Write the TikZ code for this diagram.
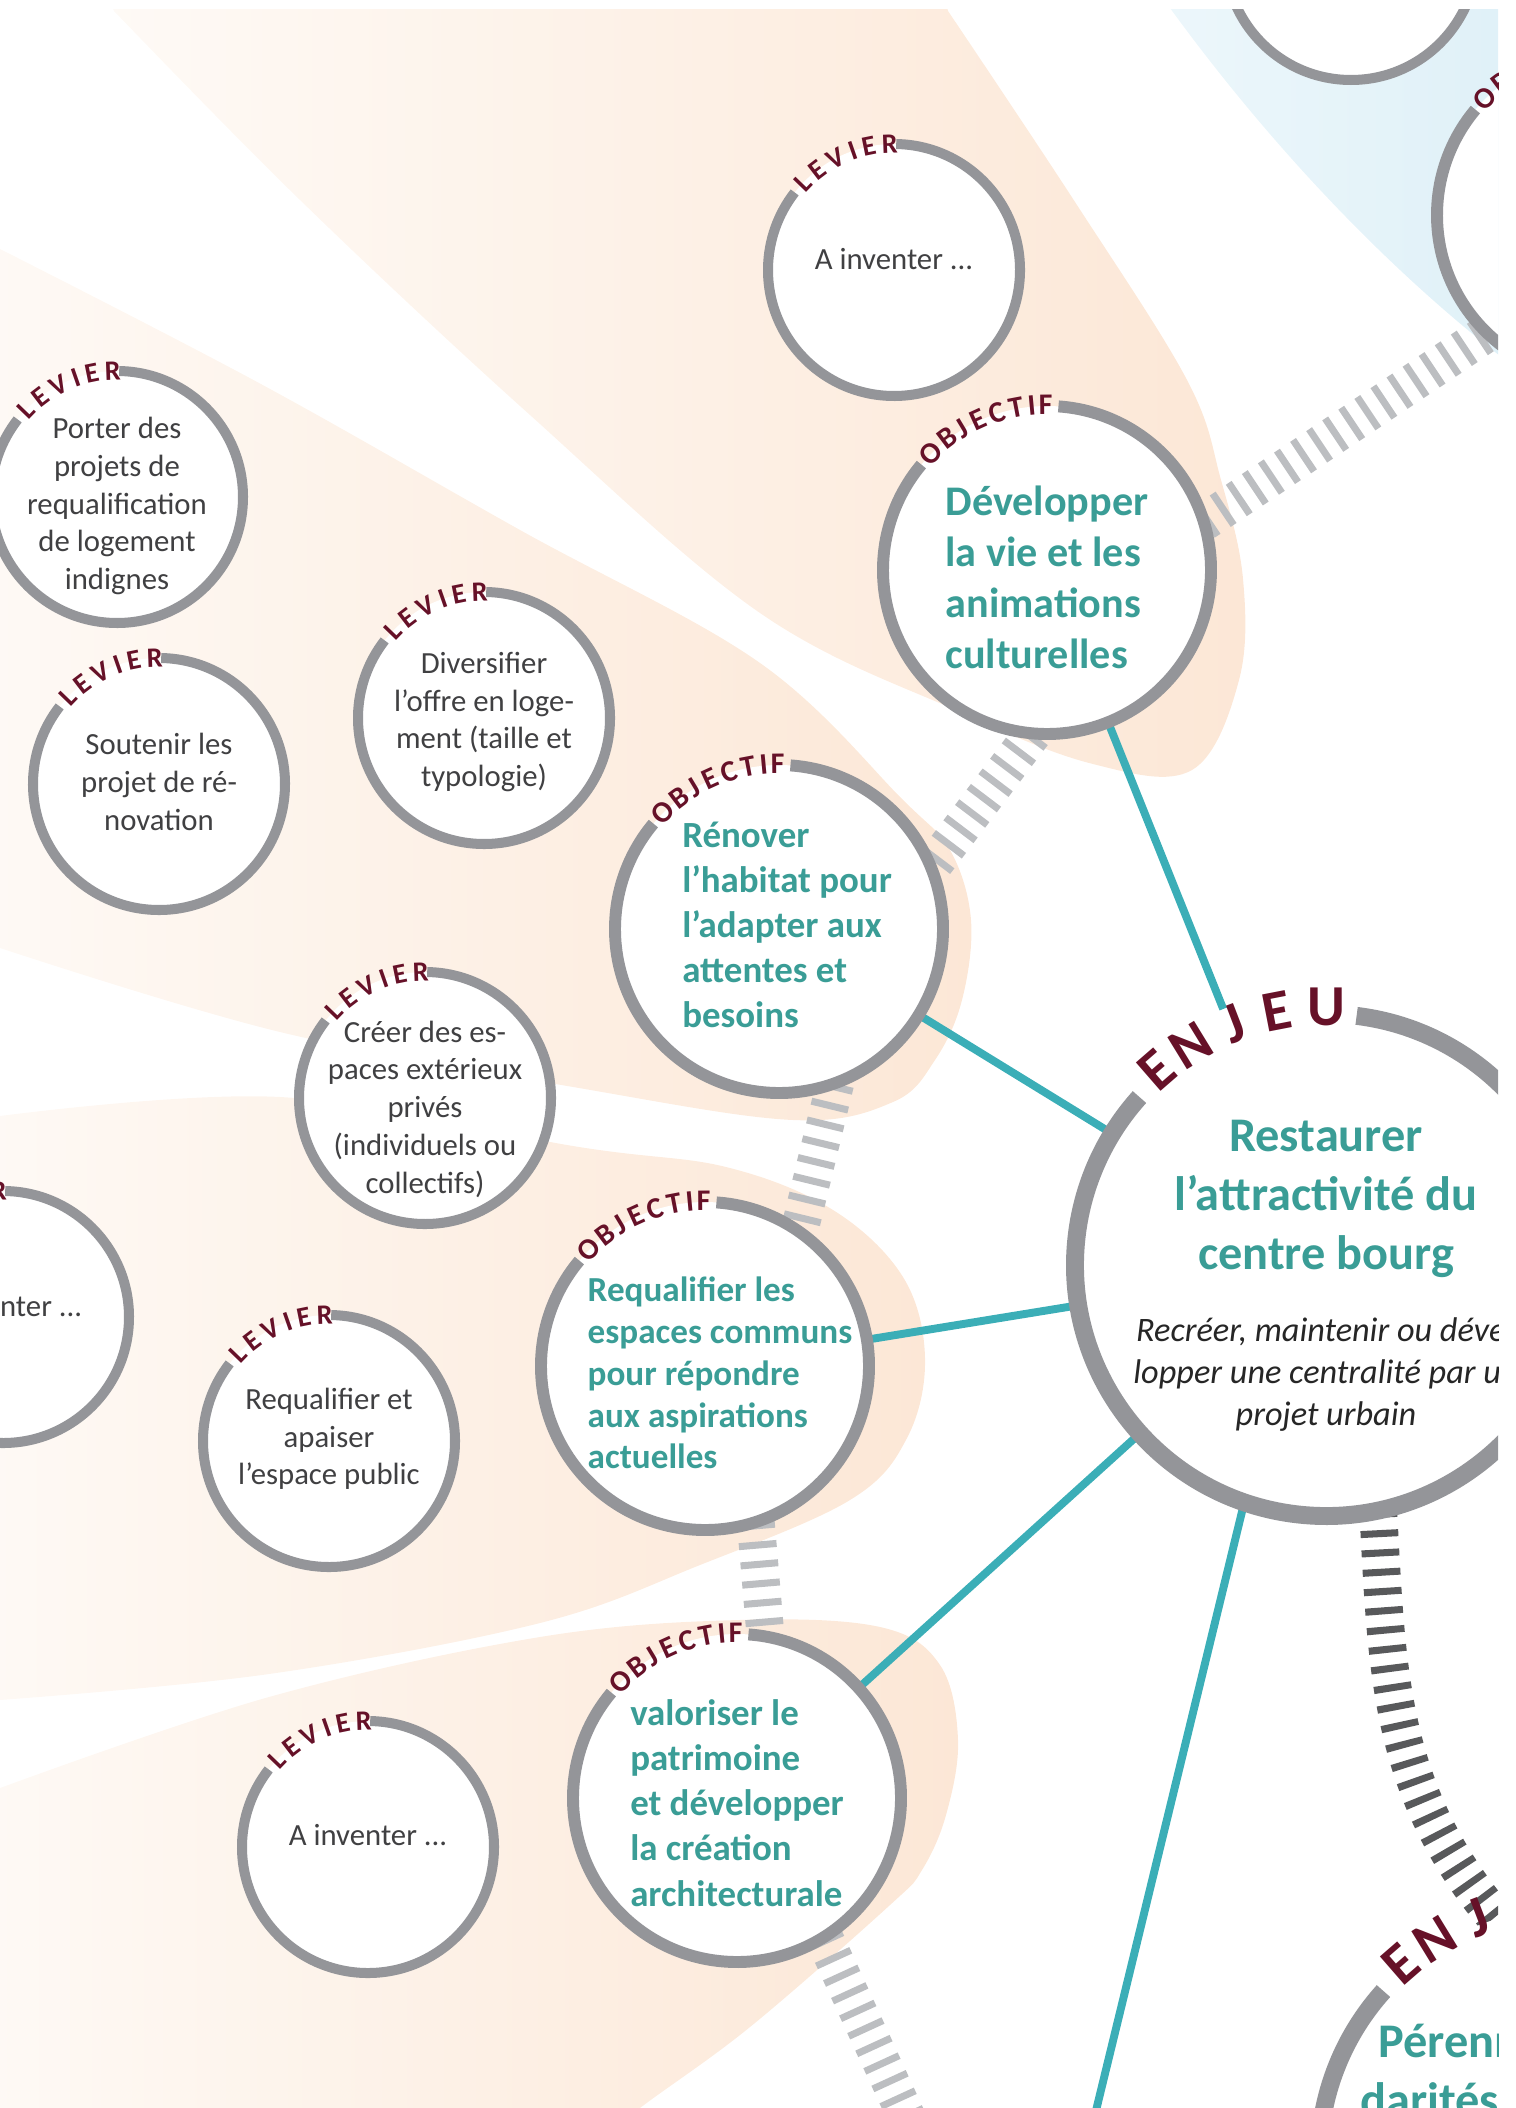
\documentclass[tikz,border=0pt]{standalone}
\usepackage{fontspec}
\setmainfont{Carlito}
\usetikzlibrary{backgrounds}

\definecolor{RingGray}{RGB}{148,149,153}
\definecolor{LeverText}{RGB}{64,64,66}
\definecolor{GoalTeal}{RGB}{58,157,150}
\definecolor{LinkTeal}{RGB}{59,174,183}
\definecolor{TagMaroon}{RGB}{102,17,40}
\definecolor{DashLight}{RGB}{188,190,193}
\definecolor{DashDark}{RGB}{88,89,91}
\definecolor{FanPeach}{RGB}{252,231,214}
\definecolor{FanPale}{RGB}{254,250,246}
\definecolor{FanBlue}{RGB}{220,239,247}
\definecolor{FanBluePale}{RGB}{237,247,251}

\begin{document}
\begin{tikzpicture}[
	x=0.02cm, y=0.02cm,
	levier/.style={circle, fill=white, inner sep=0pt, minimum size=5.04cm},
	objectif/.style={circle, fill=white, inner sep=0pt, minimum size=6.56cm},
	enjeu/.style={circle, fill=white, inner sep=0pt, minimum size=10.04cm},
	levtext/.style={inner sep=0pt, align=center, text=LeverText, font=\fontsize{17.5}{21.5}\selectfont},
	objtext/.style={inner sep=0pt, align=left, text=GoalTeal},
	enjtext/.style={inner sep=0pt, align=center, text=GoalTeal, font=\fontsize{27.5}{33.5}\selectfont\bfseries},
	levring/.style={draw=RingGray, line width=5.7pt},
	objring/.style={draw=RingGray, line width=6.8pt},
	enjring/.style={draw=RingGray, line width=10.2pt},
	levtag/.style={inner sep=0pt, text=TagMaroon, font=\fontsize{16}{16}\selectfont\bfseries},
	objtag/.style={inner sep=0pt, text=TagMaroon, font=\fontsize{17}{17}\selectfont\bfseries},
	enjtag/.style={inner sep=0pt, text=TagMaroon, font=\fontsize{33}{33}\selectfont\bfseries},
	lien/.style={draw=LinkTeal, line width=4.5pt},
	tirets/.style={draw=DashLight, line width=21.5pt, dash pattern=on 4pt off 7pt},
	fan/.style={left color=FanPale, right color=FanPeach}
	]
	
	\useasboundingbox (0,0) rectangle (1515,-2108);
	\clip (0,-10) rectangle (1498,-2108);
	
	% leviers
	\node[levier] (LT) at (1351,46) {};
	\node[levier] (L0) at (894,-270) {};
	\node[levier] (L1) at (117,-497) {};
	\node[levier] (L2) at (159,-784) {};
	\node[levier] (L3) at (484,-718) {};
	\node[levier] (L4) at (425,-1098) {};
	\node[levier] (L5) at (3,-1317) {};
	\node[levier] (L6) at (329,-1441) {};
	\node[levier] (L7) at (368,-1847) {};
	
	\node[levtext] (L0t) at (894,-259) {A inventer ...};
	\node[levtext] (L1t) at (117,-506) {Porter des\\projets de\\requalification\\de logement\\indignes};
	\node[levtext] (L2t) at (159,-782) {Soutenir les\\projet de ré-\\novation};
	\node[levtext] (L3t) at (484,-722) {Diversifier\\l’offre en loge-\\ment (taille et\\typologie)};
	\node[levtext] (L4t) at (425,-1109) {Créer des es-\\paces extérieux\\privés\\(individuels ou\\collectifs)};
	\node[levtext] (L5t) at (3,-1306) {A inventer ...};
	\node[levtext] (L6t) at (329,-1439) {Requalifier et\\apaiser\\l’espace public};
	\node[levtext] (L7t) at (368,-1835) {A inventer ...};
	
	% objectifs
	\node[objectif] (O1) at (1047,-570) {};
	\node[objectif] (O2) at (779,-929) {};
	\node[objectif] (O3) at (705,-1366) {};
	\node[objectif] (O4) at (737,-1798) {};
	\node[objectif] (ORT) at (1601,-215) {};
	
	\node[objtext, font=\fontsize{24}{29}\selectfont\bfseries] (O1t) at (1047,-577)
		{Développer\\la vie et les\\animations\\culturelles};
	\node[objtext, font=\fontsize{21}{25.7}\selectfont\bfseries] (O2t) at (787,-925)
		{Rénover\\l’habitat pour\\l’adapter aux\\attentes et\\besoins};
	\node[objtext, font=\fontsize{20}{23.8}\selectfont\bfseries] (O3t) at (720,-1373)
		{Requalifier les\\espaces communs\\pour répondre\\aux aspirations\\actuelles};
	\node[objtext, font=\fontsize{21}{25.7}\selectfont\bfseries] (O4t) at (737,-1803)
		{valoriser le\\patrimoine\\et développer\\la création\\architecturale};
	
	% enjeux
	\node[enjeu] (E1) at (1326,-1265) {};
	\node[enjeu] (E2) at (1570,-2159) {};
	
	\node[enjtext] (E1t) at (1326,-1276)
		{Restaurer\\l’attractivité du\\centre bourg\\[7.5pt]
		{\fontsize{19.5}{24}\selectfont\mdseries\itshape\color{black!85}Recréer, maintenir ou déve-}\\[-9.5pt]
		{\fontsize{19.5}{24}\selectfont\mdseries\itshape\color{black!85}lopper une centralité par un}\\[-9.5pt]
		{\fontsize{19.5}{24}\selectfont\mdseries\itshape\color{black!85}projet urbain}};
	\node[enjtext, anchor=base west] (E2a) at (1378,-2057) {Pérenniser};
	\node[enjtext, anchor=base west] (E2b) at (1360,-2116) {darités};
	
	\coordinate (offA) at (940,-2190);
	\coordinate (offE) at (1082,-2168);
	
	\begin{scope}[on background layer]
		\clip (0,-10) rectangle (1498,-2108);
		% fonds
		\shade[fan] (100,20) -- plot[smooth, tension=.6] coordinates {(114,-11) (300,-200) (530,-415) (760,-613) (960,-712) (1093,-764) (1192,-770) (1239,-680) (1243,-579) (1221,-480) (1187,-380) (1075,-202) (948,-11)} -- (940,20) -- cycle;
		\shade[fan] (-40,-238) -- plot[smooth, tension=.6] coordinates {(0,-249) (259,-383) (520,-530) (760,-663) (903,-800) (950,-850) (971,-920) (962,-1000) (935,-1060) (893,-1102) (793,-1120) (579,-1088) (280,-1032) (0,-948)} -- (-40,-942) -- cycle;
		\shade[fan] (-40,-1116) -- plot[smooth, tension=.6] coordinates {(0,-1116) (280,-1097) (579,-1147) (726,-1167) (833,-1210) (903,-1277) (925,-1358) (907,-1438) (850,-1500) (700,-1565) (540,-1623) (269,-1674) (0,-1700)} -- (-40,-1703) -- cycle;
		\shade[fan] (-40,-1790) -- plot[smooth, tension=.6] coordinates {(0,-1788) (269,-1697) (540,-1637) (739,-1620) (880,-1627) (940,-1665) (958,-1740) (946,-1815) (922,-1870) (890,-1905) (750,-2027) (640,-2108) (590,-2150)} -- (-40,-2150) -- cycle;
		\shade[left color=FanBluePale, right color=FanBlue] (1150,20) .. controls (1255,-130) and (1400,-290) .. (1560,-400) -- (1600,20) -- cycle;
		
		% liaisons entre objectifs
		\draw[tirets] (O1.17) -- (ORT.-134);
		\draw[tirets] (O1.-95) -- (O2.22);
		\draw[tirets] (O2.-70) -- (O3.55);
		\draw[tirets] (O3.-72) -- (O4.80);
		\draw[tirets] (O4.-58) -- (offA);
		\draw[tirets, draw=DashDark] (E1.-78) to[out=-87, in=130] (E2.107);
		
		% liens enjeu - objectifs
		\draw[lien, shorten >=14pt] (O1) -- (E1);
		\draw[lien] (O2) -- (E1);
		\draw[lien] (O3) -- (E1);
		\draw[lien] (O4) -- (E1);
		\draw[lien] (E1.-109) -- (offE);
	\end{scope}
	
	% anneaux
	\draw[levring] (LT.center) circle[radius=126];
	\foreach \c in {L0,L1,L2,L3,L4,L5,L6,L7}
		\draw[levring] (\c.center) ++(89:126) arc[start angle=89, end angle=-218, radius=126];
	\foreach \c in {O1,O2,O3,O4,ORT}
		\draw[objring] (\c.center) ++(86:164) arc[start angle=86, end angle=-220, radius=164];
	\foreach \c in {E1,E2}
		\draw[enjring] (\c.center) ++(83:251) arc[start angle=83, end angle=-222, radius=251];
	
	% etiquettes
	\foreach \c in {L0,L1,L2,L3,L4,L5,L6,L7}
		\foreach \l/\a [count=\i] in {L/136,E/127.4,V/117.6,I/109.2,E/101.5,R/92}
			\path (\c.center) ++(\a:126) node[levtag, rotate=\a-90] (\c-\i) {\l};
	\foreach \c in {O1,O2,O3,O4,ORT}
		\foreach \l/\a [count=\i] in {O/135,B/127,J/121,E/114.5,C/107.5,T/100.8,I/95.3,F/90.5}
			\path (\c.center) ++(\a:165) node[objtag, rotate=\a-90] (\c-\i) {\l};
	\foreach \c in {E1,E2}
		\foreach \l/\a [count=\i] in {E/131,N/121.5,J/111,E/101,U/90}
			\path (\c.center) ++(\a:258) node[enjtag, rotate=\a-90] (\c-\i) {\l};
	
\end{tikzpicture}
\end{document}
